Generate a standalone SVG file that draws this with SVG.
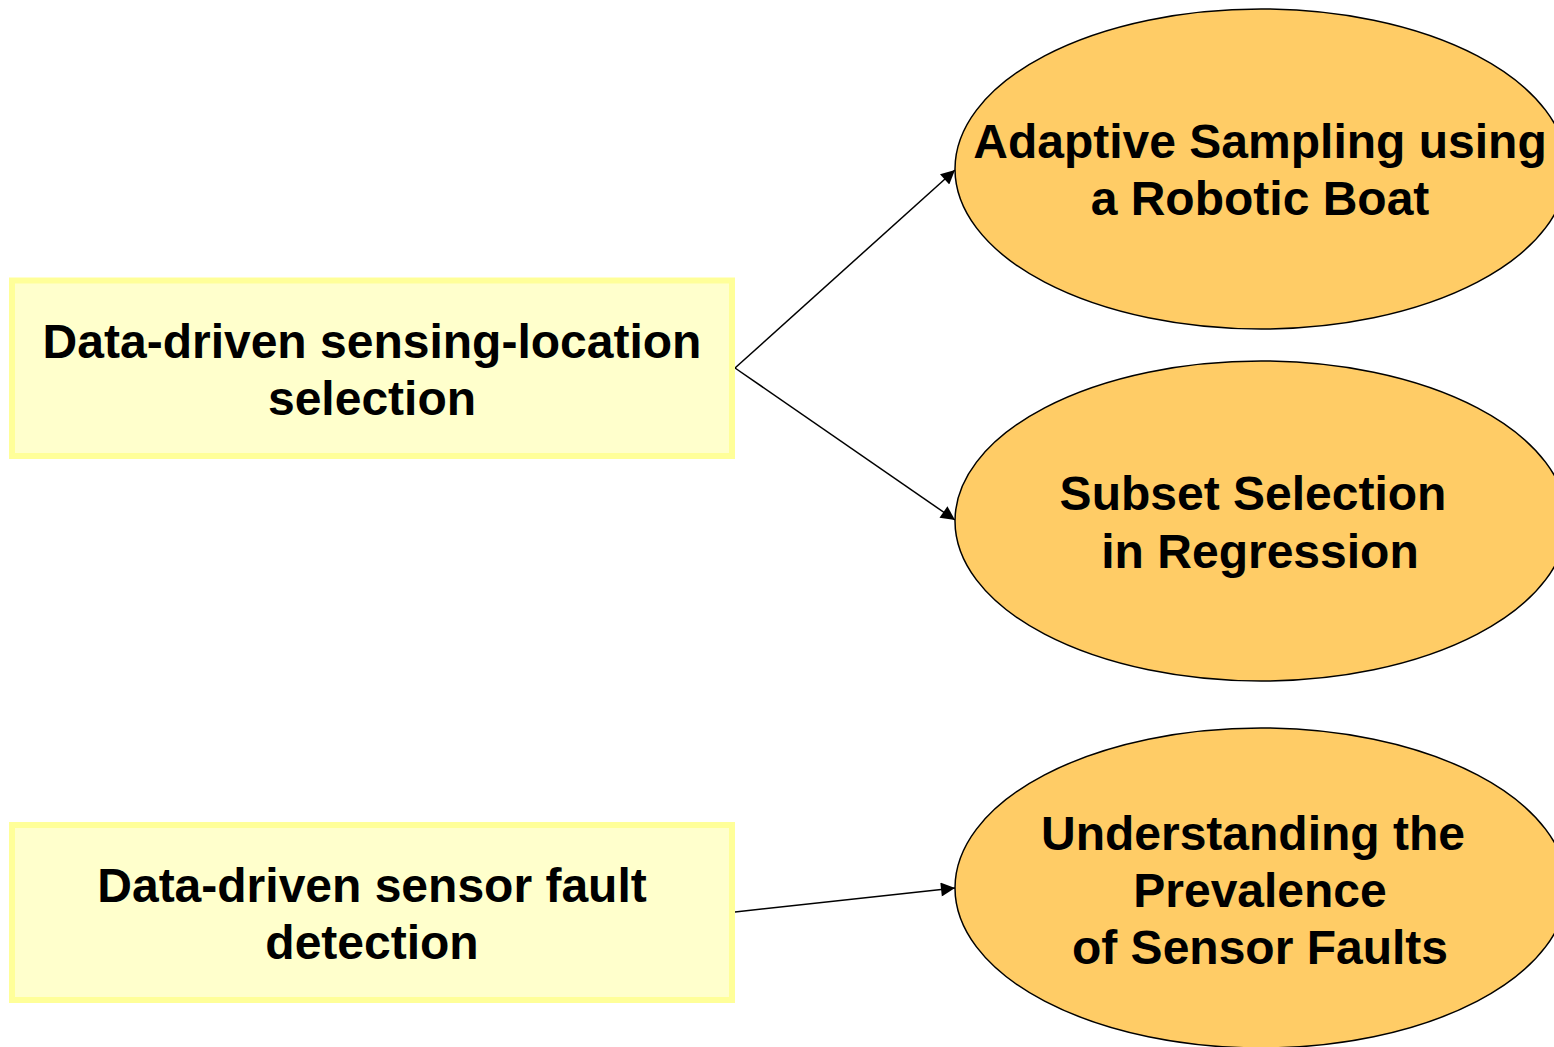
<svg xmlns="http://www.w3.org/2000/svg" width="1554" height="1047" viewBox="0 0 1554 1047">
<style>
.box{fill:#FFFFCC;stroke:#FFFF99;stroke-width:6}
.ell{fill:#FFCC66;stroke:#000;stroke-width:1.5}
.t{font-family:"Liberation Sans",Arial,sans-serif;font-weight:bold;font-size:48px;fill:#000;text-anchor:middle}
.c{stroke:#000;stroke-width:1.5;fill:none;marker-end:url(#ah)}
</style>
<defs>
<marker id="ah" viewBox="0 0 10 10" refX="10" refY="5" markerWidth="16" markerHeight="14" markerUnits="userSpaceOnUse" orient="auto">
<path d="M0,0 L10,5 L0,10 z" fill="#000"/>
</marker>
</defs>
<rect width="1554" height="1047" fill="#fff"/>
<g id="connectors">
<line class="c" x1="735" y1="368" x2="955" y2="170"/>
<line class="c" x1="735" y1="368" x2="955" y2="520"/>
<line class="c" x1="735" y1="912" x2="955" y2="888"/>
</g>
<g id="n1">
<rect class="box" x="12" y="280.5" width="720" height="175.5"/>
<text class="t" x="372" y="358">Data-driven sensing-location</text>
<text class="t" x="372" y="415">selection</text>
</g>
<g id="n2">
<rect class="box" x="12" y="825" width="720" height="175"/>
<text class="t" x="372" y="902">Data-driven sensor fault</text>
<text class="t" x="372" y="959">detection</text>
</g>
<g id="n3">
<ellipse class="ell" cx="1261" cy="169" rx="306" ry="160"/>
<text class="t" x="1260" y="158">Adaptive Sampling using</text>
<text class="t" x="1260" y="215">a Robotic Boat</text>
</g>
<g id="n4">
<ellipse class="ell" cx="1261" cy="521" rx="306" ry="160"/>
<text class="t" x="1253" y="510">Subset Selection</text>
<text class="t" x="1260" y="568">in Regression</text>
</g>
<g id="n5">
<ellipse class="ell" cx="1261" cy="888" rx="306" ry="160"/>
<text class="t" x="1253" y="850">Understanding the</text>
<text class="t" x="1260" y="907">Prevalence</text>
<text class="t" x="1260" y="964">of Sensor Faults</text>
</g>
</svg>
